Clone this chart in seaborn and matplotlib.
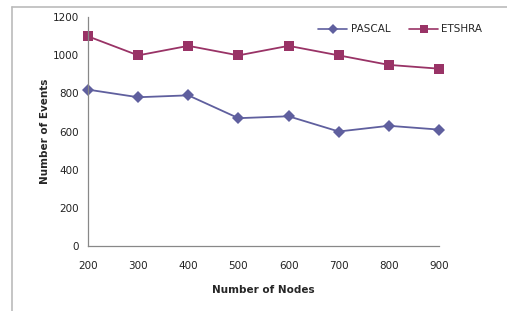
import pandas as pd
import matplotlib.pyplot as plt
import matplotlib.lines as mlines
import seaborn as sns

# data
nodes = [200, 300, 400, 500, 600, 700, 800, 900]
pascal = [820, 780, 790, 670, 680, 600, 630, 610]
etshra = [1100, 1000, 1050, 1000, 1050, 1000, 950, 930]
y_ticks = [0, 200, 400, 600, 800, 1000, 1200]

df = pd.DataFrame({"Nodes": nodes, "PASCAL": pascal, "ETSHRA": etshra})
long = df.melt(id_vars="Nodes", var_name="Series", value_name="Events")

sns.set_style("white")
plt.rcParams["font.family"] = ["DejaVu Sans"]

colors = {"PASCAL": "#5F5F9E", "ETSHRA": "#993366"}
markers = {"PASCAL": "D", "ETSHRA": "s"}
sizes = {"PASCAL": 6.2, "ETSHRA": 7.2}

fig = plt.figure(figsize=(5.07, 3.11), dpi=100)
ax = fig.add_axes([88 / 507, 1 - 245.7 / 311, (439 - 88) / 507, (245.7 - 17.3) / 311])

for name in ["PASCAL", "ETSHRA"]:
    sub = long[long["Series"] == name]
    sns.lineplot(data=sub, x="Nodes", y="Events", ax=ax, color=colors[name],
                 marker=markers[name], markersize=sizes[name], linewidth=1.3,
                 markeredgewidth=0, legend=False, clip_on=False)

ax.set_xlim(200, 900)
ax.set_ylim(0, 1200)
ax.set_xticks(nodes)
ax.set_yticks(y_ticks)
ax.tick_params(axis="both", labelsize=7.5, colors="#222222", length=3,
               width=0.8, direction="out", color="#888888")
ax.tick_params(axis="x", pad=8)
for s in ["top", "right"]:
    ax.spines[s].set_visible(False)
for s in ["left", "bottom"]:
    ax.spines[s].set_color("#888888")
    ax.spines[s].set_linewidth(0.9)

ax.set_xlabel("Number of Nodes", fontsize=7.5, fontweight="bold", labelpad=10)
ax.set_ylabel("Number of Events", fontsize=7.5, fontweight="bold", labelpad=2)

handles = [mlines.Line2D([], [], color=colors[n], marker=markers[n],
                         markersize=sizes[n] - 1, markeredgewidth=0, linewidth=1.2)
           for n in ["PASCAL", "ETSHRA"]]
leg = ax.legend(handles, ["PASCAL", "ETSHRA"], loc="upper right", ncol=2,
                bbox_to_anchor=(1.15, 1.01), frameon=False, fontsize=7.5,
                handlelength=2.8, handletextpad=0.3, columnspacing=1.8)

# outer chart border (left and top visible in the reference)
fig.add_artist(mlines.Line2D([12 / 507, 12 / 507], [0, 1 - 7 / 311],
                             transform=fig.transFigure, color="#BBBBBB", linewidth=1.2))
fig.add_artist(mlines.Line2D([12 / 507, 1], [1 - 7 / 311, 1 - 7 / 311],
                             transform=fig.transFigure, color="#BBBBBB", linewidth=1.2))

fig.savefig("out.png", dpi=100)
